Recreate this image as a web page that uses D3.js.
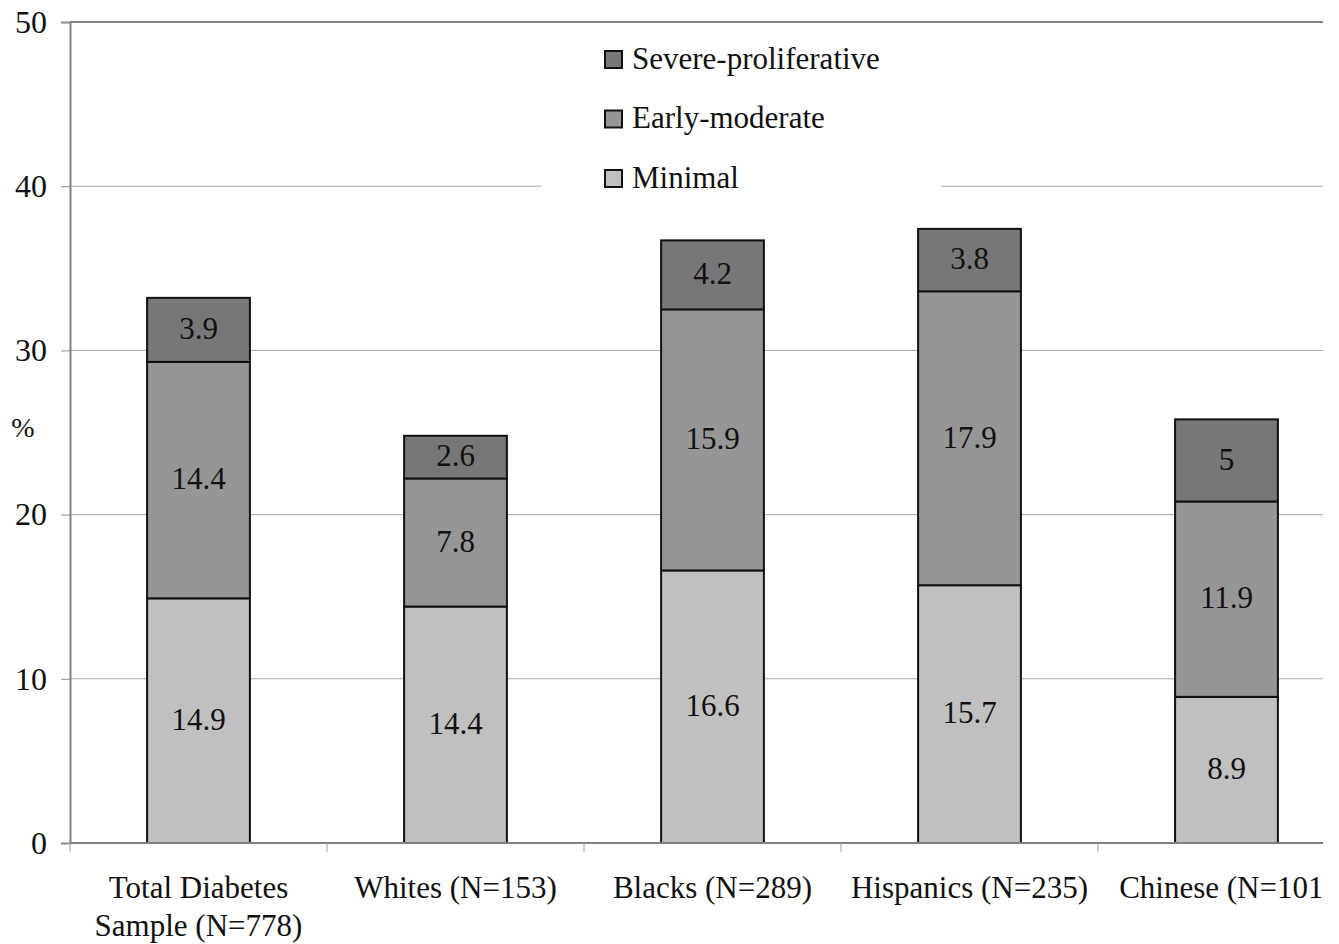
<!DOCTYPE html>
<html>
<head>
<meta charset="utf-8">
<script src="https://cdn.jsdelivr.net/npm/d3@7"></script>
<style>
  body { margin: 0; background: #fff; }
  svg text { font-family: "Liberation Serif", "Times New Roman", serif; fill: #111; }
</style>
</head>
<body>
<svg id="chart"></svg>
<script>
const categories = ["Total Diabetes|Sample (N=778)", "Whites (N=153)", "Blacks (N=289)", "Hispanics (N=235)", "Chinese (N=101)"]
const minimal = [14.9, 14.4, 16.6, 15.7, 8.9]
const earlyModerate = [14.4, 7.8, 15.9, 17.9, 11.9]
const severe = [3.9, 2.6, 4.2, 3.8, 5]
const seriesNames = ["Minimal", "Early-moderate", "Severe-proliferative"]
const yTicks = [0, 10, 20, 30, 40, 50]

const width = 1339, height = 944
const plotLeft = 70, plotRight = 1323, plotTop = 22, plotBottom = 843
const colors = { "Minimal": "#c0c0c0", "Early-moderate": "#969696", "Severe-proliferative": "#777777" }
const fontSize = 31

const svg = d3.select("#chart")
    .attr("width", width)
    .attr("height", height);

// scales - band range runs past the cropped right edge
const x = d3.scaleBand()
    .domain(categories)
    .range([plotLeft, plotLeft + 257 * 5])
    .paddingInner(0.6)
    .paddingOuter(0.3);

const y = d3.scaleLinear()
    .domain([0, 50])
    .range([plotBottom, plotTop]);

// gridlines
svg.append("g")
    .selectAll("line")
    .data(yTicks.filter(d => d > 0 && d < 50))
    .enter()
    .append("line")
    .attr("x1", plotLeft).attr("x2", plotRight)
    .attr("y1", d => y(d)).attr("y2", d => y(d))
    .attr("stroke", "#a8a8a8")
    .attr("stroke-width", 1);

// top border
svg.append("line")
    .attr("x1", plotLeft).attr("x2", plotRight)
    .attr("y1", y(50)).attr("y2", y(50))
    .attr("stroke", "#808080").attr("stroke-width", 2);

// stacked data
const table = categories.map((c, i) => ({
    key: c, "Minimal": minimal[i], "Early-moderate": earlyModerate[i], "Severe-proliferative": severe[i]
}));
const stacked = d3.stack().keys(seriesNames)(table);

const layers = svg.append("g").selectAll("g")
    .data(stacked)
    .enter()
    .append("g")
    .attr("fill", d => colors[d.key]);

layers.selectAll("rect")
    .data(d => d)
    .enter()
    .append("rect")
    .attr("x", d => x(d.data.key))
    .attr("width", x.bandwidth())
    .attr("y", d => y(d[1]))
    .attr("height", d => y(d[0]) - y(d[1]))
    .attr("stroke", "#111")
    .attr("stroke-width", 2);

layers.selectAll("text")
    .data(d => d)
    .enter()
    .append("text")
    .attr("x", d => x(d.data.key) + x.bandwidth() / 2)
    .attr("y", d => (y(d[0]) + y(d[1])) / 2)
    .attr("dy", "0.3em")
    .attr("text-anchor", "middle")
    .attr("font-size", fontSize)
    .text(d => d3.format("~g")(+(d[1] - d[0]).toFixed(1)));

// y axis
const yAxis = d3.axisLeft(y).tickValues(yTicks).tickSize(9).tickPadding(14);
const gy = svg.append("g")
    .attr("transform", `translate(${plotLeft}, 0)`)
    .call(yAxis);
gy.select(".domain").attr("stroke", "#808080").attr("stroke-width", 2);
gy.selectAll(".tick line").attr("stroke", "#909090");
gy.selectAll(".tick text").attr("font-size", 32).attr("fill", "#111");

svg.append("text")
    .attr("x", 23).attr("y", y(25) - 5)
    .attr("dy", "0.35em")
    .attr("text-anchor", "middle")
    .attr("font-size", 28)
    .text("%");

// x axis
svg.append("line")
    .attr("x1", plotLeft).attr("x2", plotRight)
    .attr("y1", plotBottom).attr("y2", plotBottom)
    .attr("stroke", "#808080").attr("stroke-width", 2);

svg.append("g")
    .selectAll("line")
    .data(d3.range(6).map(i => plotLeft + i * x.step()).filter(v => v <= plotRight))
    .enter()
    .append("line")
    .attr("x1", d => d).attr("x2", d => d)
    .attr("y1", plotBottom).attr("y2", plotBottom + 9)
    .attr("stroke", "#a0a0a0");

svg.append("clipPath").attr("id", "clip")
    .append("rect").attr("x", 0).attr("y", 0).attr("width", plotRight - 2).attr("height", height);

svg.append("g")
    .attr("clip-path", "url(#clip)")
    .selectAll("text")
    .data(categories)
    .enter()
    .append("text")
    .attr("x", d => x(d) + x.bandwidth() / 2)
    .attr("y", 898)
    .attr("text-anchor", "middle")
    .attr("font-size", fontSize)
    .each(function(d) {
        const lines = d.split("|");
        d3.select(this).selectAll("tspan")
            .data(lines)
            .enter()
            .append("tspan")
            .attr("x", x(d) + x.bandwidth() / 2)
            .attr("dy", (l, i) => i === 0 ? 0 : 38)
            .text(l => l);
    });

// legend
const legend = svg.append("g");
legend.append("rect")
    .attr("x", 541).attr("y", 36).attr("width", 400).attr("height", 162)
    .attr("fill", "#fff");
const legendItems = legend.selectAll("g")
    .data(seriesNames.slice().reverse())
    .enter()
    .append("g")
    .attr("transform", (d, i) => `translate(605, ${59 + i * 59.5})`);
legendItems.append("rect")
    .attr("x", 0).attr("y", -8)
    .attr("width", 17).attr("height", 17)
    .attr("fill", d => colors[d])
    .attr("stroke", "#111").attr("stroke-width", 2);
legendItems.append("text")
    .attr("x", 27).attr("y", 0)
    .attr("dy", "0.32em")
    .attr("font-size", fontSize)
    .text(d => d);
</script>
</body>
</html>
